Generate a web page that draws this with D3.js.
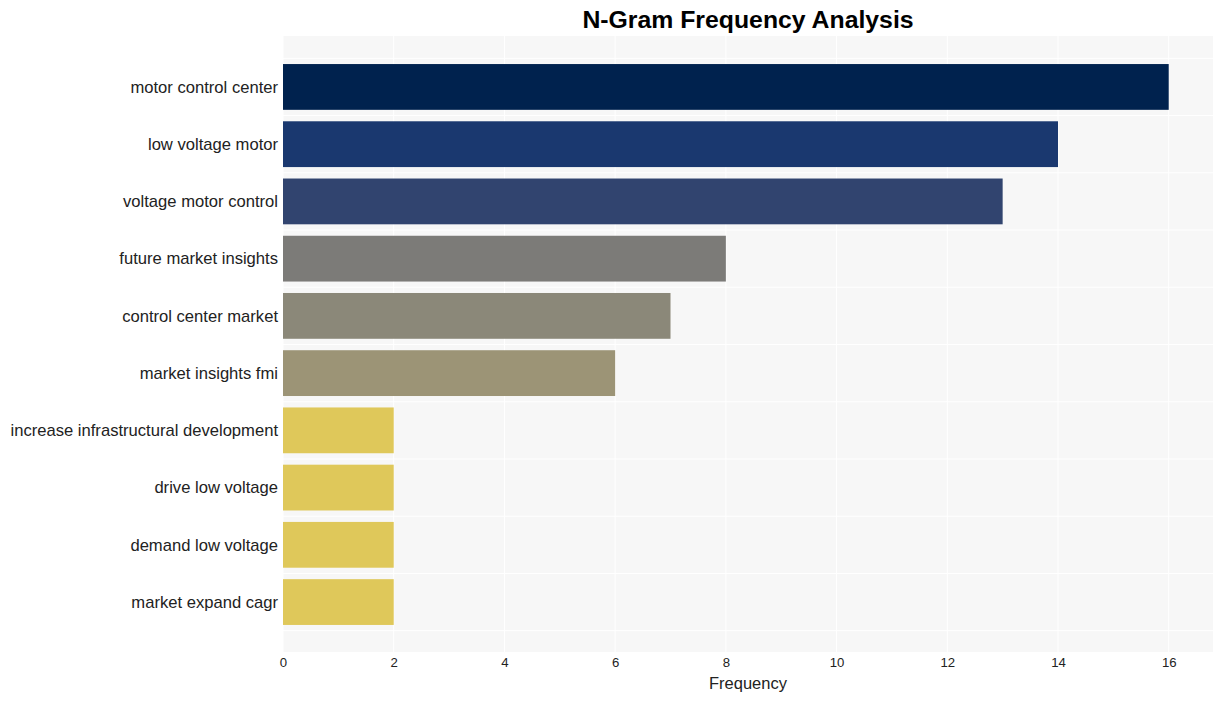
<!DOCTYPE html>
<html><head><meta charset="utf-8">
<script src="https://cdn.jsdelivr.net/npm/d3@7"></script>
<style>body{margin:0;background:#fff}svg{display:block}text{font-family:"Liberation Sans",Arial,sans-serif}</style>
</head><body><svg id="c" width="1223" height="701"></svg>
<script>
const categories = ["motor control center","low voltage motor","voltage motor control","future market insights","control center market","market insights fmi","increase infrastructural development","drive low voltage","demand low voltage","market expand cagr"];
const values = [16,14,13,8,7,6,2,2,2,2];
const colors = ["#00224e","#1a386f","#31446f","#7c7b78","#8b8879","#9c9476","#dfc85a","#dfc85a","#dfc85a","#dfc85a"];
const xTicks = [0,2,4,6,8,10,12,14,16];

const svg = d3.select("#c");
const L = 283, R = 1213, T = 36, B = 652;
const x = d3.scaleLinear().domain([0, 16.8]).range([L, R]);
const y = d3.scaleLinear().domain([-0.89, 9.89]).range([T, B + 1]);
const bh = 0.8 * (y(1) - y(0));

svg.append("rect").attr("x", L).attr("y", T).attr("width", R - L).attr("height", B - T).attr("fill", "#f7f7f7");
svg.append("g").selectAll("line").data(xTicks).join("line")
  .attr("x1", d => x(d)).attr("x2", d => x(d)).attr("y1", T).attr("y2", B)
  .attr("stroke", "#ffffff").attr("stroke-width", 1);
svg.append("g").selectAll("line").data(d3.range(-0.5, 10, 1)).join("line")
  .attr("x1", L).attr("x2", R).attr("y1", d => y(d)).attr("y2", d => y(d))
  .attr("stroke", "#ffffff").attr("stroke-width", 1);

svg.append("g").selectAll("rect").data(values).join("rect")
  .attr("x", x(0)).attr("y", (d, i) => y(i) - bh / 2)
  .attr("width", d => x(d) - x(0)).attr("height", bh)
  .attr("fill", (d, i) => colors[i]);

svg.append("g").selectAll("text").data(categories).join("text")
  .attr("x", L - 5).attr("y", (d, i) => y(i)).attr("dy", "0.35em")
  .attr("text-anchor", "end").attr("font-size", 16.6).attr("fill", "#222")
  .text(d => d);

const xAxis = d3.axisBottom(x).tickValues(xTicks).tickSize(0).tickPadding(6).tickFormat(d3.format("d"));
const gx = svg.append("g").attr("transform", `translate(0,${B})`).call(xAxis);
gx.select(".domain").remove();
gx.selectAll("text").attr("font-size", 13.2).attr("fill", "#222").style("font-family", '"Liberation Sans",Arial,sans-serif');

svg.append("text").attr("x", (L + R) / 2).attr("y", 689).attr("text-anchor", "middle")
  .attr("font-size", 16.5).attr("fill", "#222").text("Frequency");
svg.append("text").attr("x", (L + R) / 2).attr("y", 28).attr("text-anchor", "middle")
  .attr("font-size", 24.8).attr("font-weight", "bold").attr("fill", "#000").text("N-Gram Frequency Analysis");
</script></body></html>
